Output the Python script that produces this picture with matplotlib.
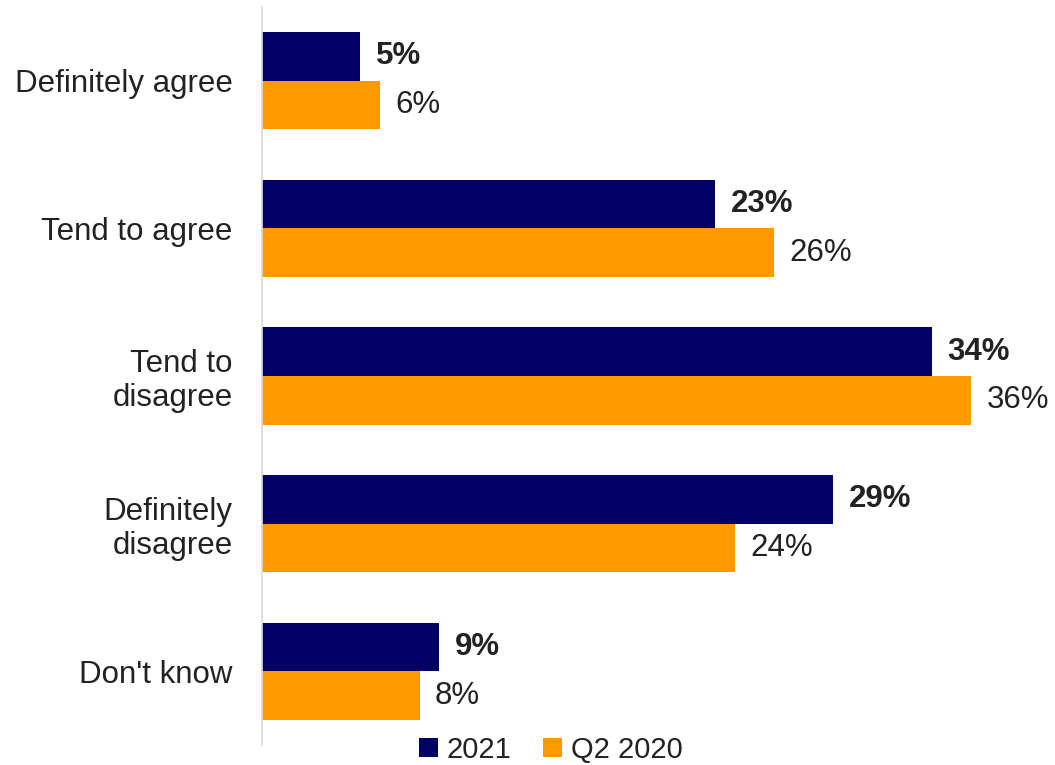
import matplotlib.pyplot as plt
import numpy as np

plt.rcParams['font.family'] = ['Liberation Sans', 'DejaVu Sans']

categories = ["Definitely agree", "Tend to agree", "Tend to\ndisagree",
              "Definitely\ndisagree", "Don't know"]
values_2021 = [5, 23, 34, 29, 9]
values_2020 = [6, 26, 36, 24, 8]
series_names = ["2021", "Q2 2020"]

navy = "#000066"
orange = "#FF9900"
text_col = "#222222"
fs = 22.5

fig = plt.figure(figsize=(10.55, 7.65), dpi=100)
ax = fig.add_axes([0.2483, 0.026, 0.747, 0.965])

y = np.arange(len(categories))
h = 0.33
b1 = ax.barh(y - h / 2, values_2021, height=h, color=navy, label=series_names[0])
b2 = ax.barh(y + h / 2, values_2020, height=h, color=orange, label=series_names[1])

for bar, v in zip(b1, values_2021):
    ax.annotate(f"{v}%", (bar.get_width(), bar.get_y() + bar.get_height() / 2),
                xytext=(11, 0), textcoords="offset points", va="center",
                fontsize=fs, fontweight="bold", color=text_col)
for bar, v in zip(b2, values_2020):
    ax.annotate(f"{v}%", (bar.get_width(), bar.get_y() + bar.get_height() / 2),
                xytext=(11, 0), textcoords="offset points", va="center",
                fontsize=fs, color=text_col)

ax.set_xlim(0, 40)
ax.set_ylim(len(categories) - 0.5, -0.5)
ax.set_yticks(y)
ax.set_yticklabels(categories, fontsize=fs, color=text_col, linespacing=1.15)
ax.tick_params(axis="y", length=0, pad=21)
ax.set_xticks([])
for s in ["top", "right", "bottom"]:
    ax.spines[s].set_visible(False)
ax.spines["left"].set_color("#D9D9D9")
ax.spines["left"].set_linewidth(1.2)
for t in ax.get_yticklabels():
    t.set_horizontalalignment("right")

fig.legend(handles=[b1, b2], labels=series_names, loc="center",
           bbox_to_anchor=(0.522, 0.02), ncol=2, frameon=False, fontsize=21,
           handlelength=0.65, handleheight=0.65, handletextpad=0.3,
           columnspacing=1.1, labelcolor=text_col)

fig.savefig("out.png", dpi=100)
